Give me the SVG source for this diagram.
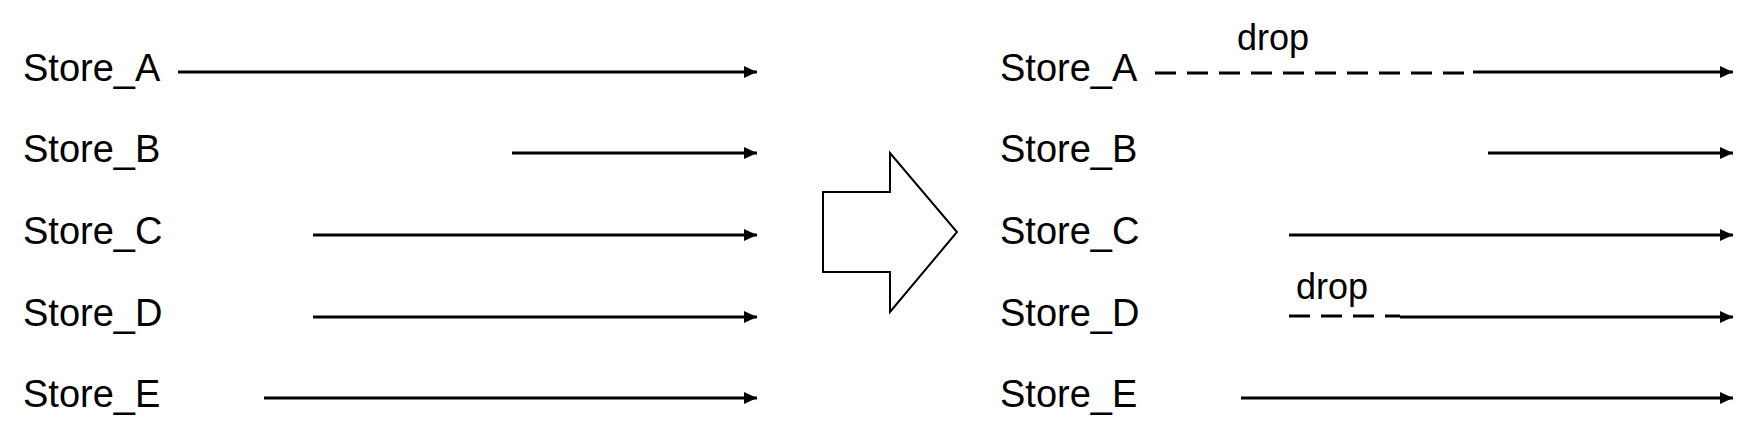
<svg xmlns="http://www.w3.org/2000/svg" width="1747" height="437" viewBox="0 0 1747 437">
<defs>
<marker id="ah" viewBox="0 0 13 12" refX="13" refY="6" markerWidth="13" markerHeight="12" markerUnits="userSpaceOnUse" orient="auto">
<path d="M0,0 L13,6 L0,12 Z" fill="#000"/>
</marker>
<style>
.lbl{font-family:"Liberation Sans",Arial,sans-serif;font-size:38px;fill:#000}
.drop{font-family:"Liberation Sans",Arial,sans-serif;font-size:36px;fill:#000}
.ln{stroke:#000;stroke-width:3;fill:none}
.arr{marker-end:url(#ah)}
.dash{stroke-dasharray:21 11}
</style>
</defs>
<rect width="1747" height="437" fill="#fff"/>
<g id="left-labels">
<g id="L_A"><text class="lbl" x="23" y="81">Store_A</text></g>
<g id="L_B"><text class="lbl" x="23" y="162">Store_B</text></g>
<g id="L_C"><text class="lbl" x="23" y="244">Store_C</text></g>
<g id="L_D"><text class="lbl" x="23" y="326">Store_D</text></g>
<g id="L_E"><text class="lbl" x="23" y="407">Store_E</text></g>
</g>
<g id="right-labels">
<g id="R_A"><text class="lbl" x="1000" y="81">Store_A</text></g>
<g id="R_B"><text class="lbl" x="1000" y="162">Store_B</text></g>
<g id="R_C"><text class="lbl" x="1000" y="244">Store_C</text></g>
<g id="R_D"><text class="lbl" x="1000" y="326">Store_D</text></g>
<g id="R_E"><text class="lbl" x="1000" y="407">Store_E</text></g>
<g id="drop_A"><text class="drop" x="1237" y="50">drop</text></g>
<g id="drop_D"><text class="drop" x="1296" y="299">drop</text></g>
</g>
<g id="big-arrow">
<path d="M823,192 L890,192 L890,153 L957,232 L890,312 L890,272 L823,272 Z" fill="#fff" stroke="#000" stroke-width="2"/>
</g>
<g id="connectors">
<line class="ln arr" x1="178" y1="72" x2="757" y2="72"/>
<line class="ln arr" x1="512" y1="153" x2="757" y2="153"/>
<line class="ln arr" x1="313" y1="235" x2="757" y2="235"/>
<line class="ln arr" x1="313" y1="317" x2="757" y2="317"/>
<line class="ln arr" x1="264" y1="398" x2="757" y2="398"/>
<line class="ln dash" x1="1155" y1="73" x2="1473" y2="73"/>
<line class="ln arr" x1="1473" y1="72" x2="1733" y2="72"/>
<line class="ln arr" x1="1488" y1="153" x2="1733" y2="153"/>
<line class="ln arr" x1="1289" y1="235" x2="1733" y2="235"/>
<line class="ln dash" x1="1289" y1="316" x2="1400" y2="316"/>
<line class="ln arr" x1="1400" y1="317" x2="1733" y2="317"/>
<line class="ln arr" x1="1241" y1="398" x2="1733" y2="398"/>
</g>
</svg>
